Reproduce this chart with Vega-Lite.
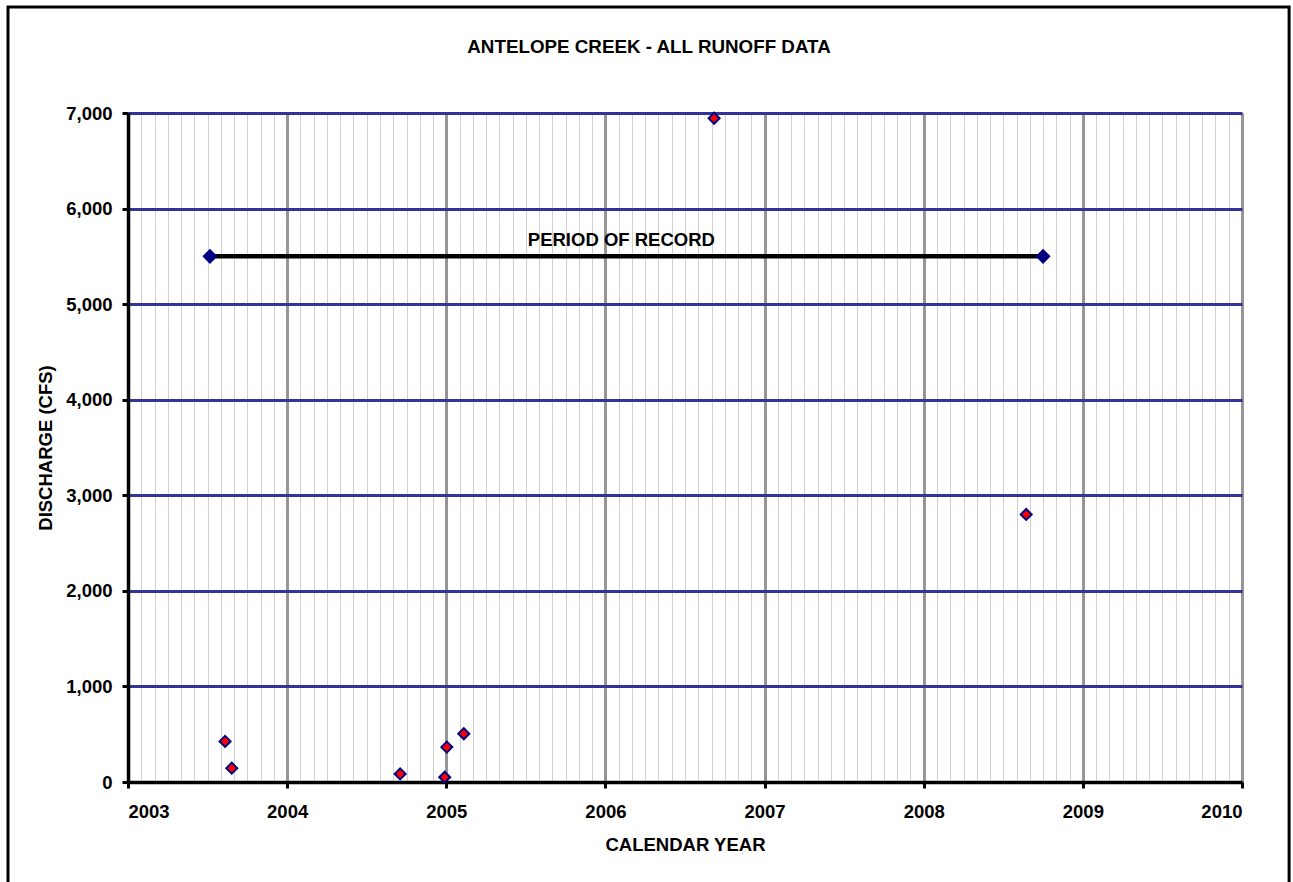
{
  "$schema": "https://vega.github.io/schema/vega-lite/v6.json",
  "width": 1114,
  "height": 669,
  "autosize": {"type": "none"},
  "padding": {"left": 128, "top": 113, "right": 51, "bottom": 100},
  "background": "white",
  "title": {
    "text": "ANTELOPE CREEK - ALL RUNOFF DATA",
    "font": "Liberation Sans",
    "fontSize": 18.8,
    "fontWeight": "bold",
    "color": "black",
    "anchor": "middle",
    "frame": "group",
    "dx": -36,
    "baseline": "alphabetic",
    "offset": -66
  },
  "datasets": {
    "runoff": [
      {"year": 2003.61, "cfs": 425},
      {"year": 2003.652, "cfs": 145},
      {"year": 2004.71, "cfs": 85},
      {"year": 2004.99, "cfs": 50},
      {"year": 2005.003, "cfs": 365},
      {"year": 2005.11, "cfs": 505},
      {"year": 2006.683, "cfs": 6945},
      {"year": 2008.644, "cfs": 2800}
    ],
    "period": [
      {"year": 2003.515, "cfs": 5500},
      {"year": 2008.75, "cfs": 5500}
    ],
    "note": [
      {"year": 2006.1, "cfs": 5500, "label": "PERIOD OF RECORD"}
    ]
  },
  "config": {
    "view": {"stroke": null},
    "font": "Liberation Sans",
    "axis": {
      "labelFont": "Liberation Sans",
      "labelFontSize": 18.5,
      "labelFontWeight": "bold",
      "labelColor": "black",
      "titleFont": "Liberation Sans",
      "titleFontSize": 18.5,
      "titleFontWeight": "bold",
      "titleColor": "black"
    }
  },
  "resolve": {"axis": {"x": "independent"}},
  "layer": [
    {
      "data": {"name": "period"},
      "mark": {"type": "line", "color": "black", "strokeWidth": 4.5},
      "encoding": {
        "x": {
          "field": "year",
          "type": "quantitative",
          "scale": {"domain": [2003, 2010], "nice": false, "zero": false},
          "axis": {
            "orient": "bottom",
            "values": [2003.0833, 2003.1667, 2003.25, 2003.3333, 2003.4167, 2003.5, 2003.5833, 2003.6667, 2003.75, 2003.8333, 2003.9167,
                       2004.0833, 2004.1667, 2004.25, 2004.3333, 2004.4167, 2004.5, 2004.5833, 2004.6667, 2004.75, 2004.8333, 2004.9167,
                       2005.0833, 2005.1667, 2005.25, 2005.3333, 2005.4167, 2005.5, 2005.5833, 2005.6667, 2005.75, 2005.8333, 2005.9167,
                       2006.0833, 2006.1667, 2006.25, 2006.3333, 2006.4167, 2006.5, 2006.5833, 2006.6667, 2006.75, 2006.8333, 2006.9167,
                       2007.0833, 2007.1667, 2007.25, 2007.3333, 2007.4167, 2007.5, 2007.5833, 2007.6667, 2007.75, 2007.8333, 2007.9167,
                       2008.0833, 2008.1667, 2008.25, 2008.3333, 2008.4167, 2008.5, 2008.5833, 2008.6667, 2008.75, 2008.8333, 2008.9167,
                       2009.0833, 2009.1667, 2009.25, 2009.3333, 2009.4167, 2009.5, 2009.5833, 2009.6667, 2009.75, 2009.8333, 2009.9167],
            "grid": true,
            "gridColor": "#d0d0d0",
            "gridWidth": 1,
            "gridOpacity": 1,
            "domain": false,
            "ticks": false,
            "labels": false,
            "title": null
          }
        },
        "y": {
          "field": "cfs",
          "type": "quantitative",
          "scale": {"domain": [0, 7000], "nice": false},
          "title": "DISCHARGE (CFS)",
          "axis": {
            "values": [0, 1000, 2000, 3000, 4000, 5000, 6000, 7000],
            "format": ",d",
            "grid": true,
            "gridColor": "#333399",
            "gridWidth": 3,
            "gridOpacity": 1,
            "domainColor": "black",
            "domainWidth": 3.5,
            "tickColor": "black",
            "tickWidth": 3,
            "tickSize": 6,
            "labelPadding": 10,
            "titlePadding": 10
          }
        }
      }
    },
    {
      "data": {"name": "period"},
      "mark": {"type": "point", "shape": "diamond", "filled": true, "color": "#000080", "size": 230, "opacity": 1},
      "encoding": {
        "x": {
          "field": "year",
          "type": "quantitative",
          "title": "CALENDAR YEAR",
          "axis": {
            "orient": "bottom",
            "values": [2003, 2004, 2005, 2006, 2007, 2008, 2009, 2010],
            "format": "d",
            "grid": true,
            "gridColor": "#969696",
            "gridWidth": 3,
            "gridOpacity": 1,
            "domainColor": "black",
            "domainWidth": 3.5,
            "tickColor": "black",
            "tickWidth": 3,
            "tickSize": 6,
            "labelPadding": 14,
            "titlePadding": 15
          }
        },
        "y": {"field": "cfs", "type": "quantitative", "title": "DISCHARGE (CFS)"}
      }
    },
    {
      "data": {"name": "note"},
      "mark": {"type": "text", "font": "Liberation Sans", "fontSize": 18.5, "fontWeight": "bold", "color": "black", "baseline": "alphabetic", "dy": -10},
      "encoding": {
        "x": {"field": "year", "type": "quantitative", "axis": null},
        "y": {"field": "cfs", "type": "quantitative", "title": "DISCHARGE (CFS)"},
        "text": {"field": "label"}
      }
    },
    {
      "data": {"name": "runoff"},
      "mark": {"type": "point", "shape": "diamond", "filled": true, "fill": "#ff0000", "stroke": "#000080", "strokeWidth": 2, "size": 120, "opacity": 1},
      "encoding": {
        "x": {"field": "year", "type": "quantitative", "axis": null},
        "y": {"field": "cfs", "type": "quantitative", "title": "DISCHARGE (CFS)"}
      }
    },
    {
      "data": {"values": [{}]},
      "mark": {"type": "rect", "fill": null, "fillOpacity": 0, "stroke": "black", "strokeWidth": 3, "clip": false},
      "encoding": {
        "x": {"datum": 2002.246, "type": "quantitative", "axis": null},
        "x2": {"datum": 2010.296},
        "y": {"datum": 8109, "type": "quantitative"},
        "y2": {"datum": -2500}
      }
    }
  ]
}
